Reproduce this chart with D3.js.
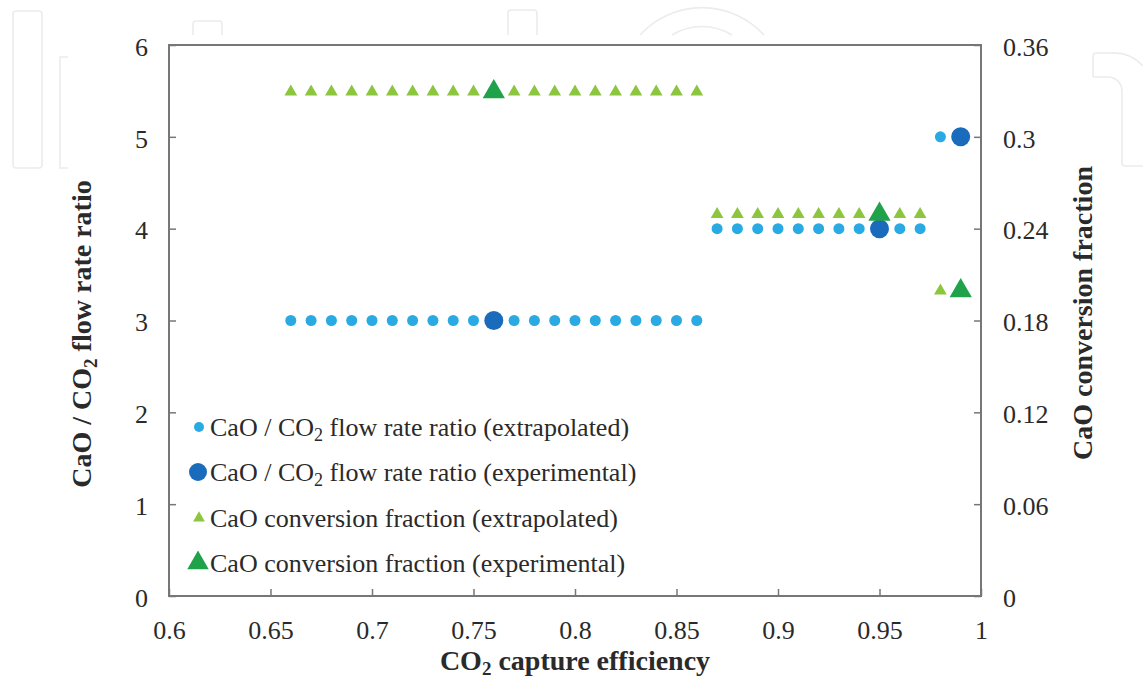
<!DOCTYPE html>
<html>
<head>
<meta charset="utf-8">
<script src="https://cdn.jsdelivr.net/npm/d3@7/dist/d3.min.js"></script>
<style>
  html, body { margin: 0; padding: 0; background: #fff; }
  svg { display: block; }
</style>
</head>
<body>
<svg id="chart" width="1143" height="683"></svg>
<script>
// Capture efficiency values (x) for each series
const ratioExtraX = [0.66, 0.67, 0.68, 0.69, 0.70, 0.71, 0.72, 0.73, 0.74, 0.75, 0.77, 0.78, 0.79, 0.80, 0.81, 0.82, 0.83, 0.84, 0.85, 0.86,
                     0.87, 0.88, 0.89, 0.90, 0.91, 0.92, 0.93, 0.94, 0.96, 0.97, 0.98];
const ratioExtraY = [3, 3, 3, 3, 3, 3, 3, 3, 3, 3, 3, 3, 3, 3, 3, 3, 3, 3, 3, 3,
                     4, 4, 4, 4, 4, 4, 4, 4, 4, 4, 5];
const ratioExpX = [0.76, 0.95, 0.99];
const ratioExpY = [3, 4, 5];

const convExtraX = [0.66, 0.67, 0.68, 0.69, 0.70, 0.71, 0.72, 0.73, 0.74, 0.75, 0.77, 0.78, 0.79, 0.80, 0.81, 0.82, 0.83, 0.84, 0.85, 0.86,
                    0.87, 0.88, 0.89, 0.90, 0.91, 0.92, 0.93, 0.94, 0.96, 0.97, 0.98];
const convExtraY = [0.33, 0.33, 0.33, 0.33, 0.33, 0.33, 0.33, 0.33, 0.33, 0.33, 0.33, 0.33, 0.33, 0.33, 0.33, 0.33, 0.33, 0.33, 0.33, 0.33,
                    0.25, 0.25, 0.25, 0.25, 0.25, 0.25, 0.25, 0.25, 0.25, 0.25, 0.20];
const convExpX = [0.76, 0.95, 0.99];
const convExpY = [0.33, 0.25, 0.20];

const xTicks = [0.6, 0.65, 0.7, 0.75, 0.8, 0.85, 0.9, 0.95, 1];
const yLeftTicks = [0, 1, 2, 3, 4, 5, 6];
const yRightTicks = [0, 0.06, 0.12, 0.18, 0.24, 0.3, 0.36];

const legendLabels = [
  ["CaO / CO", "2", " flow rate ratio (extrapolated)"],
  ["CaO / CO", "2", " flow rate ratio (experimental)"],
  ["CaO conversion fraction (extrapolated)"],
  ["CaO conversion fraction (experimental)"]
];

const colors = {
  ratioExtra: "#2aaae2",
  ratioExp: "#1b6bbd",
  convExtra: "#8cc63f",
  convExp: "#20a24a"
};

const FONT = "Times New Roman, Liberation Serif, serif";
const TEXT = "#2a2a2a";

const svg = d3.select("#chart").attr("font-family", FONT);
const m = { left: 169, right: 981, top: 45, bottom: 596 };

const x = d3.scaleLinear().domain([0.6, 1]).range([m.left, m.right]);
const yL = d3.scaleLinear().domain([0, 6]).range([m.bottom, m.top]);
const yR = d3.scaleLinear().domain([0, 0.36]).range([m.bottom, m.top]);

const axisColor = "#777";

// Faint publisher logo outline in the background
const wm = svg.append("g").attr("fill", "none").attr("stroke", "#ececec").attr("stroke-width", 1.6);
wm.append("rect").attr("x", 13).attr("y", 11).attr("width", 29).attr("height", 157).attr("rx", 3);
wm.append("path").attr("d", "M68,57 H60 V168 H68");
wm.append("path").attr("d", "M193,35 V24 Q193,21 196,21 H219 Q222,21 222,24 V35");
wm.append("path").attr("d", "M508,35 V13 Q508,10 511,10 H534 Q537,10 537,13 V35");
wm.append("path").attr("d", "M640,35 A84,84 0 0 1 764,35");
wm.append("path").attr("d", "M672,35 A57,57 0 0 1 732,35");
wm.append("path").attr("d", "M1093,77 V56 Q1093,53 1096,53 H1110 A40,40 0 0 1 1143,66");
wm.append("path").attr("d", "M1093,77 H1108 A14,14 0 0 1 1122,91 V163 Q1122,166 1125,166 H1143");

// Plot background and frame
svg.append("rect")
  .attr("x", m.left).attr("y", m.top)
  .attr("width", m.right - m.left).attr("height", m.bottom - m.top)
  .attr("fill", "#fff").attr("stroke", axisColor).attr("stroke-width", 2);

// Axes with inward ticks
const fmt = d => String(+d.toFixed(2));
const styleAxis = g => {
  g.attr("font-family", FONT).attr("font-size", 26);
  g.select(".domain").remove();
  g.selectAll(".tick line").attr("stroke", axisColor).attr("stroke-width", 1.5);
  g.selectAll(".tick text").attr("fill", TEXT);
};

svg.append("g").attr("transform", `translate(0,${m.bottom})`)
  .call(d3.axisBottom(x).tickValues(xTicks).tickFormat(fmt).tickSizeInner(-7).tickPadding(25))
  .call(styleAxis);

svg.append("g").attr("transform", `translate(${m.left},2)`)
  .call(d3.axisLeft(yL).tickValues(yLeftTicks).tickFormat(fmt).tickSizeInner(-7).tickPadding(21))
  .call(styleAxis)
  .call(g => g.selectAll(".tick line").attr("transform", "translate(0,-2)"));

svg.append("g").attr("transform", `translate(${m.right},2)`)
  .call(d3.axisRight(yR).tickValues(yRightTicks).tickFormat(fmt).tickSizeInner(-7).tickPadding(22))
  .call(styleAxis)
  .call(g => g.selectAll(".tick line").attr("transform", "translate(0,-2)"));

// Axis titles
const xt = svg.append("text")
  .attr("x", 575).attr("y", 670).attr("fill", TEXT)
  .attr("text-anchor", "middle").attr("font-size", 28).attr("font-weight", "bold");
xt.append("tspan").text("CO");
xt.append("tspan").text("2").attr("dy", 5).attr("font-size", 19);
xt.append("tspan").text(" capture efficiency").attr("dy", -5);

const ylt = svg.append("text")
  .attr("transform", "translate(91,334) rotate(-90)").attr("fill", TEXT)
  .attr("text-anchor", "middle").attr("font-size", 28).attr("font-weight", "bold");
ylt.append("tspan").text("CaO / CO");
ylt.append("tspan").text("2").attr("dy", 6).attr("font-size", 19);
ylt.append("tspan").text(" flow rate ratio").attr("dy", -6);

svg.append("text")
  .attr("transform", "translate(1092,313) rotate(-90)").attr("fill", TEXT)
  .attr("text-anchor", "middle").attr("font-size", 28).attr("font-weight", "bold")
  .text("CaO conversion fraction");

// Markers
const tri = size => d3.symbol().type(d3.symbolTriangle).size(size)();

const plot = svg.append("g");

plot.selectAll(".ce").data(convExtraX.map((v, i) => [v, convExtraY[i]])).join("path")
  .attr("d", tri(70))
  .attr("transform", d => `translate(${x(d[0])},${yR(d[1]) + 1})`)
  .attr("fill", colors.convExtra);

plot.selectAll(".re").data(ratioExtraX.map((v, i) => [v, ratioExtraY[i]])).join("circle")
  .attr("cx", d => x(d[0])).attr("cy", d => yL(d[1])).attr("r", 5.5)
  .attr("fill", colors.ratioExtra);

plot.selectAll(".rx").data(ratioExpX.map((v, i) => [v, ratioExpY[i]])).join("circle")
  .attr("cx", d => x(d[0])).attr("cy", d => yL(d[1])).attr("r", 9.5)
  .attr("fill", colors.ratioExp);

plot.selectAll(".cx").data(convExpX.map((v, i) => [v, convExpY[i]])).join("path")
  .attr("d", tri(215))
  .attr("transform", d => `translate(${x(d[0])},${yR(d[1]) + 1})`)
  .attr("fill", colors.convExp);

// Legend
const legendMarks = [
  g => g.append("circle").attr("r", 5).attr("fill", colors.ratioExtra),
  g => g.append("circle").attr("r", 9).attr("fill", colors.ratioExp),
  g => g.append("path").attr("d", tri(60)).attr("fill", colors.convExtra),
  g => g.append("path").attr("d", tri(200)).attr("fill", colors.convExp)
];
const legY = [427, 472, 518, 563];
legendLabels.forEach((parts, i) => {
  const g = svg.append("g").attr("transform", `translate(0,${legY[i]})`);
  const mk = g.append("g").attr("transform", `translate(${i === 1 || i === 3 ? 198 : 199},0)`);
  legendMarks[i](mk);
  const t = g.append("text").attr("x", 210).attr("y", 9).attr("font-size", 26).attr("fill", TEXT);
  if (parts.length === 3) {
    t.append("tspan").text(parts[0]);
    t.append("tspan").text(parts[1]).attr("dy", 5).attr("font-size", 18);
    t.append("tspan").text(parts[2]).attr("dy", -5);
  } else {
    t.text(parts[0]);
  }
});
</script>
</body>
</html>
